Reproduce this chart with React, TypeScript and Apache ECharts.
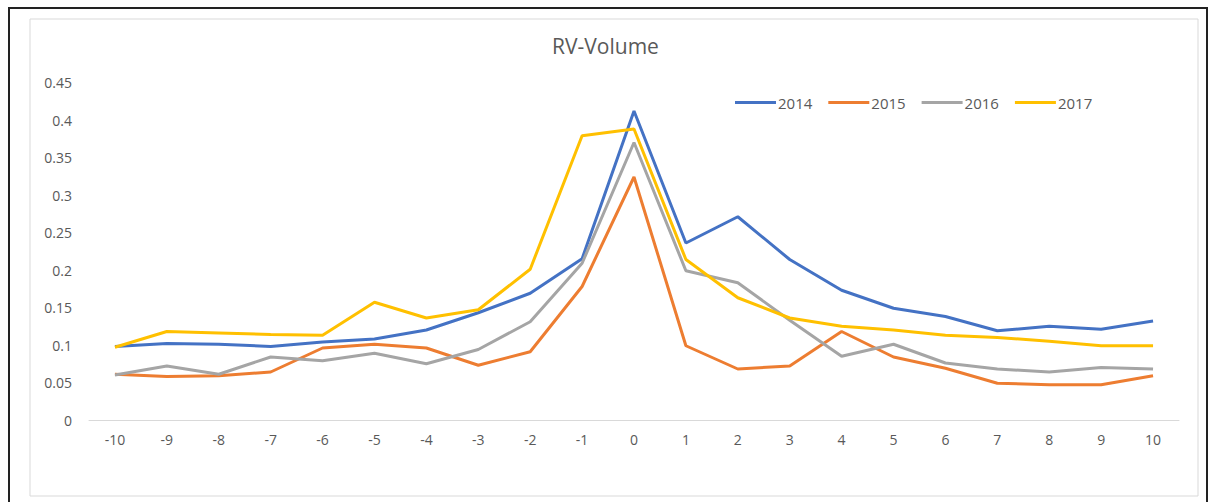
import React, { useEffect, useRef } from "react";
import * as echarts from "echarts";

const categories = ["-10","-9","-8","-7","-6","-5","-4","-3","-2","-1","0","1","2","3","4","5","6","7","8","9","10"];
const s2014 = [0.098,0.102,0.101,0.098,0.104,0.108,0.12,0.143,0.169,0.215,0.412,0.236,0.271,0.214,0.173,0.149,0.138,0.119,0.125,0.121,0.132];
const s2015 = [0.061,0.058,0.059,0.064,0.096,0.101,0.096,0.073,0.091,0.178,0.324,0.099,0.068,0.072,0.118,0.084,0.069,0.049,0.047,0.047,0.059];
const s2016 = [0.06,0.072,0.061,0.084,0.079,0.089,0.075,0.094,0.131,0.209,0.37,0.199,0.183,0.133,0.085,0.101,0.076,0.068,0.064,0.07,0.068];
const s2017 = [0.097,0.118,0.116,0.114,0.113,0.157,0.136,0.147,0.201,0.379,0.388,0.214,0.163,0.136,0.125,0.12,0.113,0.11,0.105,0.099,0.099];
const seriesNames = ["2014","2015","2016","2017"];
const colors = ["#4472C4","#ED7D31","#A5A5A5","#FFC000"];

export default function App() {
  const ref = useRef<HTMLDivElement>(null);
  useEffect(() => {
    if (!ref.current) return;
    const chart = echarts.init(ref.current, undefined, { renderer: "svg" });
    const font = "'Open Sans', 'Liberation Sans', sans-serif";
    const data = [s2014, s2015, s2016, s2017];
    chart.setOption({
      animation: false,
      color: colors,
      textStyle: { fontFamily: font },
      title: {
        text: "RV-Volume",
        left: "center",
        top: 30,
        textStyle: { fontFamily: font, fontSize: 21, fontWeight: "normal", color: "#595959" },
      },
      legend: {
        left: 735,
        top: 95,
        padding: 0,
        icon: "rect",
        itemWidth: 41,
        itemHeight: 3,
        itemGap: 16,
        data: seriesNames,
        textStyle: { fontFamily: font, fontSize: 15, color: "#595959", padding: [0, 0, 0, -3] },
      },
      grid: { left: 89, right: 32, top: 82.5, bottom: 82, containLabel: false },
      xAxis: {
        type: "category",
        data: categories,
        boundaryGap: true,
        axisLine: { lineStyle: { color: "#D9D9D9", width: 1 } },
        axisTick: { show: false },
        axisLabel: { color: "#595959", fontSize: 14, margin: 12, fontFamily: font },
      },
      yAxis: {
        type: "value",
        min: 0,
        max: 0.45,
        interval: 0.05,
        axisLine: { show: false },
        axisTick: { show: false },
        splitLine: { show: false },
        axisLabel: {
          color: "#595959",
          fontSize: 14,
          margin: 17,
          fontFamily: font,
          formatter: (v: number) => String(parseFloat(v.toFixed(2))),
        },
      },
      graphic: [
        { type: "rect", shape: { x: 9, y: 8, width: 1198, height: 510 }, style: { fill: "none", stroke: "#222", lineWidth: 2 }, silent: true },
        { type: "rect", shape: { x: 30, y: 19, width: 1168, height: 477 }, style: { fill: "none", stroke: "#D9D9D9", lineWidth: 1 }, silent: true },
      ],
      series: seriesNames.map((n, i) => ({
        name: n,
        type: "line",
        data: data[i],
        symbol: "none",
        lineStyle: { width: 3, color: colors[i] },
        itemStyle: { color: colors[i] },
      })),
    });
    return () => chart.dispose();
  }, []);
  return <div ref={ref} style={{ position: "fixed", left: 0, top: 0, width: 1211, height: 502, background: "#fff" }} />;
}
